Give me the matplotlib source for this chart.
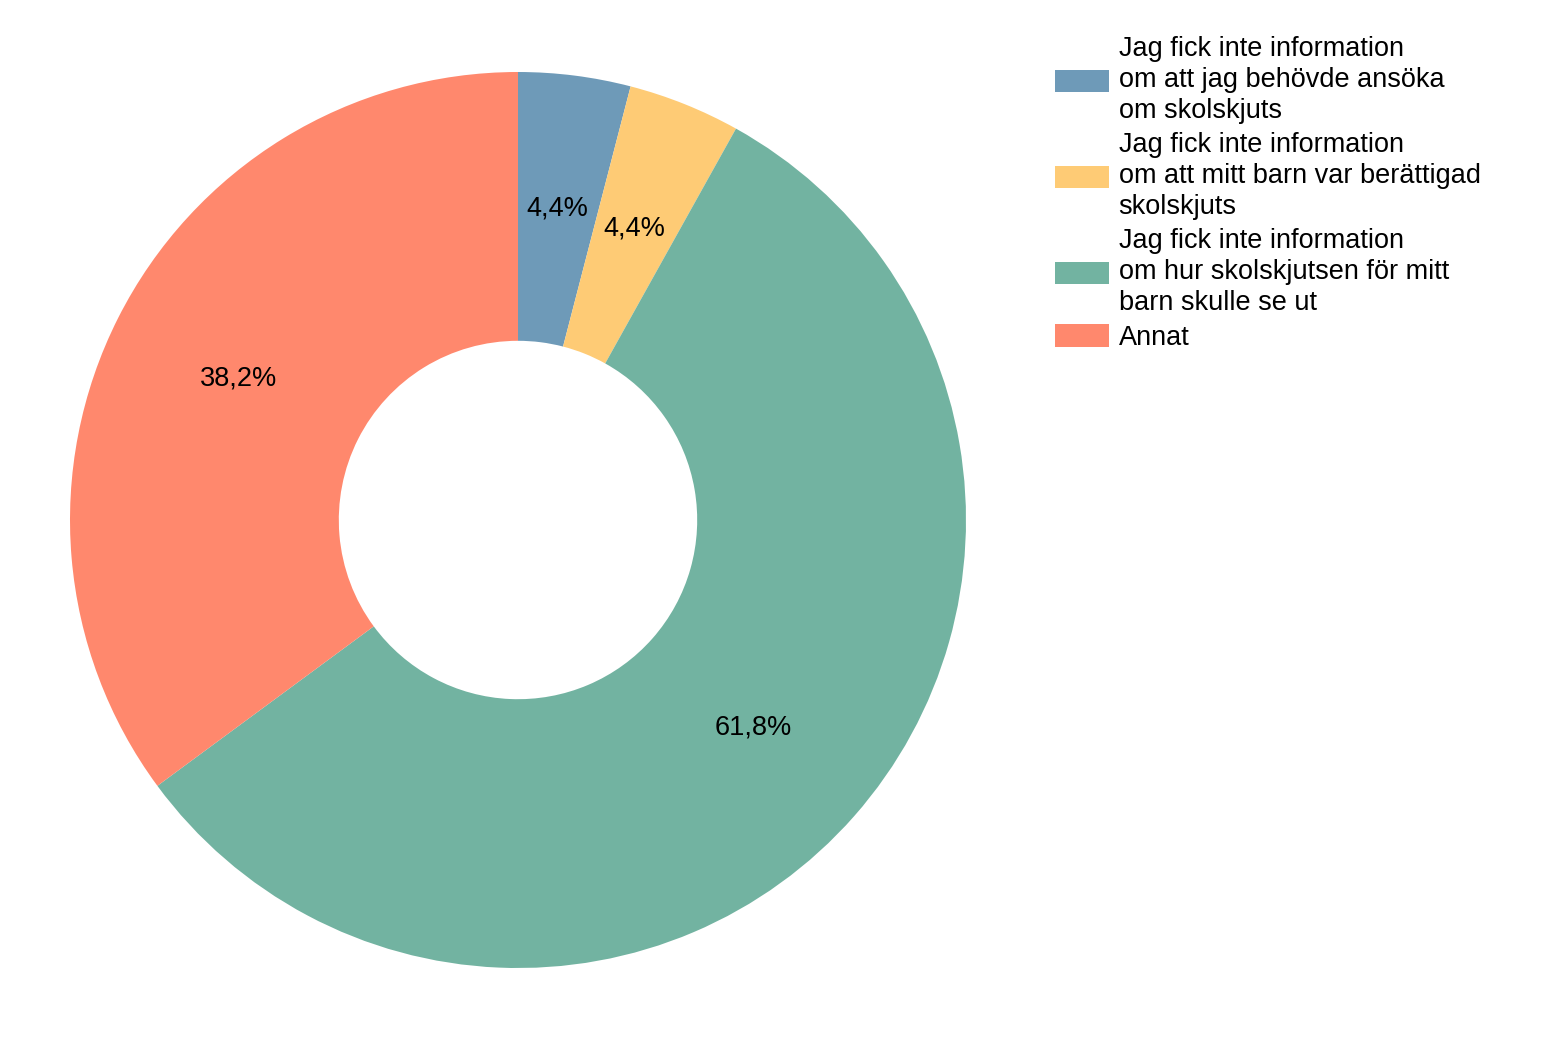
import matplotlib
matplotlib.use("Agg")
import matplotlib.pyplot as plt

plt.rcParams['font.family'] = ['Liberation Sans', 'DejaVu Sans']

labels = [
    "Jag fick inte information\nom att jag behövde ansöka\nom skolskjuts",
    "Jag fick inte information\nom att mitt barn var berättigad\nskolskjuts",
    "Jag fick inte information\nom hur skolskjutsen för mitt\nbarn skulle se ut",
    "Annat",
]
values = [4.4, 4.4, 61.8, 38.2]
colors = ["#6E9AB8", "#FECB75", "#72B3A1", "#FF886D"]

W, H = 1562, 1054
fig = plt.figure(figsize=(W / 100, H / 100), dpi=100)
cx, cy, r = 518, 520, 448
ax = fig.add_axes([(cx - r) / W, (H - cy - r) / H, 2 * r / W, 2 * r / H])

wedges, texts, autotexts = ax.pie(
    values, colors=colors, startangle=90, counterclock=False,
    autopct=lambda p: "", pctdistance=0.7,
    wedgeprops=dict(width=0.6, linewidth=0),
)
for at, v in zip(autotexts, values):
    at.set_text(f"{v:.1f}".replace(".", ",") + "%")
    at.set_fontsize(19.5)
    at.set_color("black")
ax.set_xlim(-1, 1)
ax.set_ylim(-1, 1)
ax.set_aspect("equal")
ax.axis("off")

leg = fig.legend(
    wedges, labels, loc="upper left",
    bbox_to_anchor=(1055 / W, 1 - 36 / H), frameon=False,
    fontsize=19.5, handlelength=2.0, handleheight=0.88, handletextpad=0.35,
    labelspacing=0.3, borderpad=0, borderaxespad=0,
)
for t in leg.get_texts():
    t.set_linespacing(1.25)

fig.savefig("out.png", dpi=100)
